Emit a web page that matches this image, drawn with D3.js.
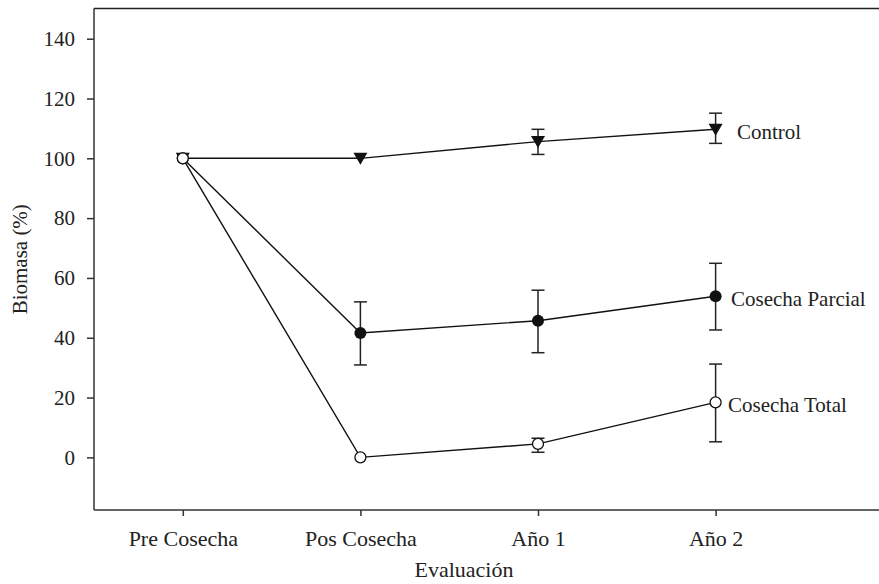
<!DOCTYPE html>
<html>
<head>
<meta charset="utf-8">
<script src="https://cdn.jsdelivr.net/npm/d3@7"></script>
<style>
  body { margin: 0; background: #fff; }
  text { font-family: "Liberation Serif", "Times New Roman", serif; fill: #222; }
</style>
</head>
<body>
<svg id="chart" width="879" height="584"></svg>
<script>
// data
const categories = ["Pre Cosecha", "Pos Cosecha", "Año 1", "Año 2"];
const yTicks = [0, 20, 40, 60, 80, 100, 120, 140];

const controlMean = [100, 100, 105.6, 109.7];
const controlHigh = [null, null, 109.7, 115.1];
const controlLow  = [null, null, 101.3, 105.0];

const parcialMean = [100, 41.6, 45.7, 53.9];
const parcialHigh = [null, 52.0, 55.9, 64.9];
const parcialLow  = [null, 30.9, 35.0, 42.6];

const totalMean = [100, 0, 4.5, 18.4];
const totalHigh = [null, null, 6.4, 31.2];
const totalLow  = [null, null, 1.7, 5.2];

const seriesNames = ["Control", "Cosecha Parcial", "Cosecha Total"];

const serif = '"Liberation Serif", "Times New Roman", serif';
const svg = d3.select("#chart");
const plotLeft = 94, plotTop = 8.5, plotBottom = 510;
const step = 177.6;

// x runs from half a step before the first category, plot continues off the right edge
const x = d3.scaleLinear().domain([-0.5, 4.5]).range([plotLeft, plotLeft + 5 * step]);
const y = d3.scaleLinear().domain([-17.6, 150.1]).range([plotBottom, plotTop]);

// frame: top line (left and bottom come from the axes)
svg.append("line").attr("x1", plotLeft).attr("x2", x(4.5)).attr("y1", plotTop).attr("y2", plotTop)
    .attr("stroke", "#222").attr("stroke-width", 1.5);

const yAxis = svg.append("g").attr("transform", `translate(${plotLeft},0)`)
    .call(d3.axisLeft(y).tickValues(yTicks).tickSize(7).tickPadding(12));
const xAxis = svg.append("g").attr("transform", `translate(0,${plotBottom})`)
    .call(d3.axisBottom(x).tickValues(d3.range(categories.length)).tickFormat(i => categories[i]).tickSize(6).tickPadding(14));

[yAxis, xAxis].forEach(g => {
    g.attr("font-family", null);
    g.select(".domain").attr("stroke", "#333").attr("stroke-width", 1.5);
    g.selectAll(".tick line").attr("stroke", "#333").attr("stroke-width", 1.5);
    g.selectAll("text").style("font-family", serif).style("font-size", "21px").attr("fill", "#222");
});
xAxis.selectAll("text").style("font-size", "22px");
xAxis.select(".domain").attr("d", `M${plotLeft},0H${879}`);
yAxis.select(".domain").attr("d", `M0,${plotBottom}V${plotTop}`);

// axis titles
svg.append("text").attr("x", 464).attr("y", 577).attr("text-anchor", "middle")
    .style("font-family", serif).style("font-size", "22px").text("Evaluación");
svg.append("text").attr("transform", `translate(27,${(plotTop + plotBottom) / 2}) rotate(-90)`)
    .attr("text-anchor", "middle").style("font-family", serif).style("font-size", "21px").text("Biomasa (%)");

const line = d3.line().x((d, i) => x(i)).y(d => y(d));

function drawSeries(mean, high, low) {
    svg.append("path").datum(mean).attr("d", line)
        .attr("fill", "none").attr("stroke", "#111").attr("stroke-width", 1.4);

    const bars = mean.map((m, i) => ({ i, hi: high[i], lo: low[i] })).filter(d => d.hi != null);
    const g = svg.append("g").attr("stroke", "#222").attr("stroke-width", 1.5);
    g.selectAll(".stem").data(bars).enter().append("line")
        .attr("x1", d => x(d.i)).attr("x2", d => x(d.i))
        .attr("y1", d => y(d.hi)).attr("y2", d => y(d.lo));
    g.selectAll(".capHi").data(bars).enter().append("line")
        .attr("x1", d => x(d.i) - 6.5).attr("x2", d => x(d.i) + 6.5)
        .attr("y1", d => y(d.hi)).attr("y2", d => y(d.hi));
    g.selectAll(".capLo").data(bars).enter().append("line")
        .attr("x1", d => x(d.i) - 6.5).attr("x2", d => x(d.i) + 6.5)
        .attr("y1", d => y(d.lo)).attr("y2", d => y(d.lo));
}

drawSeries(controlMean, controlHigh, controlLow);
drawSeries(parcialMean, parcialHigh, parcialLow);
drawSeries(totalMean, totalHigh, totalLow);

// markers
const tri = "M-7,-5.5L7,-5.5L0,6.5z";
svg.selectAll(".tri").data(controlMean).enter().append("path")
    .attr("d", tri).attr("transform", (d, i) => `translate(${x(i)},${y(d)})`)
    .attr("fill", "#111");
svg.selectAll(".dot").data(parcialMean).enter().append("circle")
    .attr("cx", (d, i) => x(i)).attr("cy", d => y(d)).attr("r", 6)
    .attr("fill", "#111");
svg.selectAll(".ring").data(totalMean).enter().append("circle")
    .attr("cx", (d, i) => x(i)).attr("cy", d => y(d)).attr("r", 5.5)
    .attr("fill", "#fff").attr("stroke", "#111").attr("stroke-width", 1.3);

// series labels next to the last point
const labelX = [737, 731, 728];
const lastMeans = [controlMean[3], parcialMean[3], totalMean[3]];
svg.selectAll(".lab").data(seriesNames).enter().append("text")
    .attr("x", (d, i) => labelX[i]).attr("y", (d, i) => y(lastMeans[i]) + 2)
    .attr("dy", "0.35em").style("font-family", serif).style("font-size", "21px").text(d => d);
</script>
</body>
</html>
